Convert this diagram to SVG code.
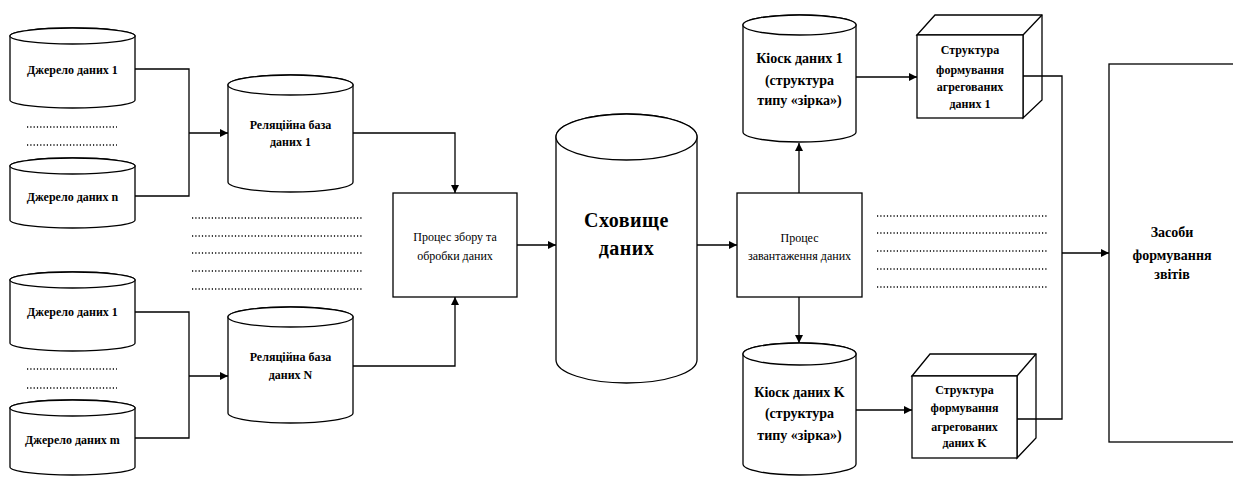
<svg xmlns="http://www.w3.org/2000/svg" width="1233" height="477" viewBox="0 0 1233 477" font-family="'Liberation Serif', 'DejaVu Serif', serif">
<style>
.s{fill:#fff;stroke:#000;stroke-width:1.3}
.c{fill:none;stroke:#000;stroke-width:1.3}
.d{fill:none;stroke:#000;stroke-width:1.4;stroke-dasharray:1.2 2.1}
.t{font-family:'Liberation Serif','DejaVu Serif',serif;font-size:12px;fill:#000;text-anchor:middle}
.b{font-weight:bold}
.l{font-size:14px}
.x{font-size:20px;letter-spacing:0.5px}
</style>
<defs>
<marker id="ah" viewBox="0 0 10 10" refX="10" refY="5" markerWidth="8" markerHeight="8" markerUnits="userSpaceOnUse" orient="auto">
<path d="M0,0 L10,5 L0,10 z" fill="#000"/>
</marker>
</defs>
<rect width="1233" height="477" fill="#fff"/>

<g id="src1">
<path class="s" d="M10,36 A62.5,8 0 0 1 135,36 L135,100 A62.5,8 0 0 1 10,100 Z"/>
<ellipse class="s" cx="72.5" cy="36" rx="62.5" ry="8"/>
<text class="t b" x="72.5" y="74">Джерело даних 1</text>
</g>
<g id="srcn">
<path class="s" d="M10,166 A62.5,8 0 0 1 135,166 L135,220 A62.5,8 0 0 1 10,220 Z"/>
<ellipse class="s" cx="72.5" cy="166" rx="62.5" ry="8"/>
<text class="t b" x="72.5" y="201">Джерело даних n</text>
</g>
<g id="src1b">
<path class="s" d="M10,280 A62.5,8 0 0 1 135,280 L135,343 A62.5,8 0 0 1 10,343 Z"/>
<ellipse class="s" cx="72.5" cy="280" rx="62.5" ry="8"/>
<text class="t b" x="72.5" y="316">Джерело даних 1</text>
</g>
<g id="srcm">
<path class="s" d="M10,408 A62.5,8 0 0 1 135,408 L135,467 A62.5,8 0 0 1 10,467 Z"/>
<ellipse class="s" cx="72.5" cy="408" rx="62.5" ry="8"/>
<text class="t b" x="72.5" y="444">Джерело даних m</text>
</g>

<g id="rdb1">
<path class="s" d="M228,85 A62.5,10 0 0 1 353,85 L353,182 A62.5,10 0 0 1 228,182 Z"/>
<ellipse class="s" cx="290.5" cy="85" rx="62.5" ry="10"/>
<text class="t b" x="290.5" y="129">Реляційна база</text>
<text class="t b" x="290.5" y="146">даних 1</text>
</g>
<g id="rdbN">
<path class="s" d="M228,317 A62.5,10 0 0 1 353,317 L353,413 A62.5,10 0 0 1 228,413 Z"/>
<ellipse class="s" cx="290.5" cy="317" rx="62.5" ry="10"/>
<text class="t b" x="290.5" y="361">Реляційна база</text>
<text class="t b" x="290.5" y="379">даних N</text>
</g>

<g id="proc1">
<rect class="s" x="393" y="193" width="124" height="104"/>
<text class="t" x="455" y="241">Процес збору та</text>
<text class="t" x="455" y="260">обробки даних</text>
</g>

<g id="dw">
<path class="s" d="M556,137 A70.5,23 0 0 1 697,137 L697,360 A70.5,23 0 0 1 556,360 Z"/>
<ellipse class="s" cx="626.5" cy="137" rx="70.5" ry="23"/>
<text class="t b x" x="626.5" y="227">Сховище</text>
<text class="t b x" x="626.5" y="255">даних</text>
</g>

<g id="proc2">
<rect class="s" x="737" y="193" width="125" height="104"/>
<text class="t" x="799.5" y="242">Процес</text>
<text class="t" x="799.5" y="260">завантаження даних</text>
</g>

<g id="kiosk1">
<path class="s" d="M743,25 A56.5,10 0 0 1 856,25 L856,132 A56.5,10 0 0 1 743,132 Z"/>
<ellipse class="s" cx="799.5" cy="25" rx="56.5" ry="10"/>
<text class="t b l" x="799.5" y="63">Кіоск даних 1</text>
<text class="t b l" x="799.5" y="85">(структура</text>
<text class="t b l" x="799.5" y="105">типу «зірка»)</text>
</g>
<g id="kioskK">
<path class="s" d="M743,354 A56.5,11 0 0 1 856,354 L856,464 A56.5,11 0 0 1 743,464 Z"/>
<ellipse class="s" cx="799.5" cy="354" rx="56.5" ry="11"/>
<text class="t b l" x="799.5" y="397">Кіоск даних K</text>
<text class="t b l" x="799.5" y="418">(структура</text>
<text class="t b l" x="799.5" y="440">типу «зірка»)</text>
</g>

<g id="cube1">
<path class="s" d="M917,35 L935,15 L1042,15 L1042,100 L1023,118 L1023,35 Z"/>
<path class="c" d="M1023,35 L1042,15"/>
<rect class="s" x="917" y="35" width="106" height="83"/>
<text class="t b" x="970" y="54">Структура</text>
<text class="t b" x="970" y="74">формування</text>
<text class="t b" x="970" y="91">агрегованих</text>
<text class="t b" x="970" y="108">даних 1</text>
</g>
<g id="cubeK">
<path class="s" d="M912,376 L930,354 L1036,354 L1036,438 L1017,458 L1017,376 Z"/>
<path class="c" d="M1017,376 L1036,354"/>
<rect class="s" x="912" y="376" width="105" height="82"/>
<text class="t b" x="964.5" y="394">Структура</text>
<text class="t b" x="964.5" y="412">формування</text>
<text class="t b" x="964.5" y="431">агрегованих</text>
<text class="t b" x="964.5" y="447">даних K</text>
</g>

<g id="reports">
<rect class="s" x="1109" y="64" width="140" height="378"/>
<text class="t b l" x="1172" y="237">Засоби</text>
<text class="t b l" x="1172" y="260">формування</text>
<text class="t b l" x="1172" y="279">звітів</text>
</g>

<g id="dots">
<path class="d" d="M27,127 H117 M27,145 H117 M27,369 H117 M27,388 H117"/>
<path class="d" d="M192,218 H362 M192,236 H362 M192,253 H362 M192,271 H362 M192,289 H362"/>
<path class="d" d="M877,216 H1047 M877,233 H1047 M877,251 H1047 M877,269 H1047 M877,287 H1047"/>
</g>

<g id="connectors">
<path class="c" d="M135,69 H189 V196 H135"/>
<path class="c" d="M189,133 H228" marker-end="url(#ah)"/>
<path class="c" d="M135,312 H189 V438 H135"/>
<path class="c" d="M189,376 H228" marker-end="url(#ah)"/>
<path class="c" d="M353,133 H455 V193" marker-end="url(#ah)"/>
<path class="c" d="M353,366 H455 V297" marker-end="url(#ah)"/>
<path class="c" d="M517,245 H556" marker-end="url(#ah)"/>
<path class="c" d="M697,245 H737" marker-end="url(#ah)"/>
<path class="c" d="M799,193 V143" marker-end="url(#ah)"/>
<path class="c" d="M799,297 V343" marker-end="url(#ah)"/>
<path class="c" d="M856,77 H917" marker-end="url(#ah)"/>
<path class="c" d="M856,410 H912" marker-end="url(#ah)"/>
<path class="c" d="M1023,76 H1062 V419 H1017"/>
<path class="c" d="M1062,253 H1109" marker-end="url(#ah)"/>
</g>
</svg>
